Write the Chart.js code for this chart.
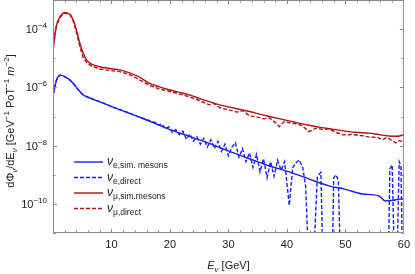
<!DOCTYPE html>
<html lang="en">
<head>
<meta charset="utf-8">
<title>Neutrino flux</title>
<script src="https://cdn.jsdelivr.net/npm/chart.js@4.4.0/dist/chart.umd.min.js"></script>
<style>
  html, body { margin: 0; padding: 0; background: #fff; }
  canvas { display: block; }
</style>
</head>
<body>
<canvas id="fluxChart" width="415" height="274"></canvas>
<script>
// energies in GeV, fluxes stored as log10 values
// -14 = zero bin (the dashed curve drops off the bottom of the frame)
const eMuSim = [0.05, 0.6, 1.2, 2.0, 2.9, 3.46, 4.0, 4.6, 5.17, 5.74, 6.6, 8.0, 9.7, 11.4, 13.1, 14.8, 16.5, 18.2, 20.0, 21.6, 23.3, 25.0, 26.7, 28.5, 30.2, 32.0, 33.6, 35.3, 37.0, 39.2, 41.5, 43.8, 46.0, 48.3, 50.6, 52.3, 54.0, 55.7, 57.4, 59.0, 60.0];
const logMuSim = [-4.61, -3.86, -3.58, -3.44, -3.49, -3.69, -4.03, -4.49, -4.83, -5.06, -5.20, -5.29, -5.35, -5.40, -5.50, -5.65, -5.86, -5.98, -6.09, -6.17, -6.26, -6.38, -6.49, -6.60, -6.68, -6.76, -6.83, -6.92, -7.00, -7.10, -7.20, -7.30, -7.38, -7.45, -7.52, -7.55, -7.57, -7.62, -7.67, -7.68, -7.62];

const eMuDir = [0.05, 0.6, 1.2, 2.0, 2.9, 3.46, 4.0, 4.6, 5.17, 5.74, 6.6, 8.0, 9.7, 11.4, 13.1, 14.8, 16.5, 18.2, 20.0, 21.5, 23.3, 25.0, 26.7, 27.5, 28.5, 30.2, 31.5, 32.5, 33.6, 35.0, 36.0, 37.0, 38.0, 38.7, 39.5, 40.5, 41.5, 42.5, 43.8, 45.0, 46.2, 47.0, 48.5, 49.6, 51.0, 52.5, 54.0, 55.5, 56.4, 57.0, 57.6, 58.6, 59.2, 60.0];
const logMuDir = [-4.61, -3.87, -3.59, -3.45, -3.50, -3.72, -4.10, -4.60, -4.98, -5.15, -5.27, -5.37, -5.42, -5.46, -5.56, -5.74, -5.93, -6.06, -6.14, -6.22, -6.32, -6.45, -6.60, -6.55, -6.70, -6.78, -6.85, -6.80, -6.98, -7.02, -7.08, -7.05, -7.20, -7.35, -7.18, -7.22, -7.25, -7.30, -7.52, -7.40, -7.45, -7.42, -7.55, -7.63, -7.62, -7.65, -7.70, -7.72, -7.80, -7.72, -7.78, -7.91, -7.83, -7.86];

const eElSim = [0.05, 0.6, 1.2, 2.0, 2.9, 4.0, 5.17, 6.9, 8.6, 10.8, 13.1, 15.3, 17.6, 20.0, 23.3, 26.7, 30.2, 33.6, 37.0, 40.4, 43.8, 47.2, 50.0, 52.9, 55.7, 56.8, 58.0, 59.7, 60.0];
const logElSim = [-6.23, -5.75, -5.58, -5.63, -5.75, -6.00, -6.26, -6.41, -6.54, -6.72, -6.89, -7.06, -7.25, -7.45, -7.68, -7.92, -8.20, -8.45, -8.70, -8.90, -9.15, -9.38, -9.50, -9.66, -9.72, -9.90, -9.88, -9.83, -9.86];

const eElDir = [0.05, 0.6, 1.2, 2.0, 2.9, 3.6, 4.0, 5.17, 6.9, 8.6, 10.8, 13.1, 15.3, 17.6, 18.0, 18.6, 19.2, 19.8, 20.4, 21.0, 21.6, 22.2, 22.8, 23.4, 24.0, 24.6, 25.2, 25.8, 26.4, 27.0, 27.6, 28.2, 28.8, 29.4, 30.0, 30.6, 31.2, 31.8, 32.4, 33.0, 33.6, 34.2, 34.8, 35.4, 36.0, 36.6, 37.2, 37.8, 38.4, 39.0, 39.6, 40.4, 41.0, 41.5, 42.1, 42.7, 43.2, 44.1, 45.2, 45.8, 46.4, 47.6, 48.0, 48.4, 48.8, 49.4, 57.2, 57.6, 58.0, 58.6, 59.2, 59.5, 59.9, 60.0];
const logElDir = [-6.23, -5.75, -5.58, -5.63, -5.75, -5.88, -6.02, -6.26, -6.41, -6.54, -6.72, -6.89, -7.06, -7.22, -7.30, -7.25, -7.42, -7.35, -7.55, -7.45, -7.62, -7.50, -7.78, -7.60, -7.85, -7.70, -7.95, -7.75, -8.05, -7.80, -8.10, -7.85, -8.20, -7.95, -8.35, -8.05, -7.90, -8.40, -8.10, -8.55, -8.25, -8.75, -8.30, -8.90, -8.45, -9.10, -8.55, -9.05, -8.50, -8.85, -8.55, -10.05, -8.75, -8.60, -8.49, -8.75, -9.40, -14, -9.06, -8.92, -14, -14, -9.10, -9.00, -9.20, -14, -14, -8.80, -8.66, -14, -8.55, -8.70, -14, -14];

const xMajor = [10, 20, 30, 40, 50, 60];
const yDecades = [-11, -10, -9, -8, -7, -6, -5, -4, -3];

const BLUE = 'rgb(25,30,255)';
const RED = 'rgb(175,18,18)';
const FONT = '"Liberation Sans", Arial, sans-serif';

function pts(xs, logs) {
  return xs.map((x, i) => ({ x: x, y: Math.pow(10, logs[i]) }));
}

const legendItems = [
  { sub: 'e,sim. mesons', color: BLUE, dash: [] },
  { sub: 'e,direct', color: BLUE, dash: [4, 2] },
  { sub: '\u03bc,sim.mesons', color: RED, dash: [] },
  { sub: '\u03bc,direct', color: RED, dash: [4, 2] }
];

// draws a run of [text, size, dy, italic] pieces starting at x
function drawRich(ctx, parts, x, y) {
  parts.forEach(p => {
    ctx.font = (p[3] ? 'italic ' : '') + p[1] + 'px ' + FONT;
    ctx.fillText(p[0], x, y + p[2]);
    x += ctx.measureText(p[0]).width;
  });
  return x;
}
function richWidth(ctx, parts) {
  let w = 0;
  parts.forEach(p => {
    ctx.font = (p[3] ? 'italic ' : '') + p[1] + 'px ' + FONT;
    w += ctx.measureText(p[0]).width;
  });
  return w;
}

const framePlugin = {
  id: 'frame',
  afterDraw(chart) {
    const ctx = chart.ctx;
    const a = chart.chartArea;
    const xs = chart.scales.x, ys = chart.scales.y;
    ctx.save();
    ctx.strokeStyle = '#8a8a8a';
    ctx.lineWidth = 1;
    ctx.setLineDash([]);
    ctx.strokeRect(a.left + 0.5, a.top + 0.5, a.right - a.left - 1, a.bottom - a.top - 1);

    // inward ticks, all four sides
    ctx.beginPath();
    for (let v = 2; v < 60; v += 2) {
      const px = Math.round(xs.getPixelForValue(v)) + 0.5;
      const len = v % 10 === 0 ? 4 : 2.5;
      ctx.moveTo(px, a.bottom); ctx.lineTo(px, a.bottom - len);
      ctx.moveTo(px, a.top); ctx.lineTo(px, a.top + len);
    }
    yDecades.forEach(d => {
      const py = Math.round(ys.getPixelForValue(Math.pow(10, d))) + 0.5;
      const len = d % 2 === 0 ? 4 : 2.5;
      ctx.moveTo(a.left, py); ctx.lineTo(a.left + len, py);
      ctx.moveTo(a.right, py); ctx.lineTo(a.right - len, py);
    });
    ctx.stroke();

    // y tick labels with superscript exponents
    ctx.fillStyle = '#222';
    ctx.textBaseline = 'alphabetic';
    yDecades.filter(d => d % 2 === 0 && d > -11 && d < -3).forEach(d => {
      const py = ys.getPixelForValue(Math.pow(10, d));
      const parts = [['10', 11, 0], ['\u2212' + (-d), 8, -5]];
      const w = richWidth(ctx, parts);
      drawRich(ctx, parts, 47 - w, py + 4);
    });

    // x axis title
    const xt = [['E', 11, 0, true], ['\u03bd', 8, 3, true], [' [GeV]', 11, 0]];
    const xw = richWidth(ctx, xt);
    drawRich(ctx, xt, (a.left + a.right) / 2 - xw / 2, 269);

    // y axis title (rotated)
    const yt = [['d\u03a6', 11, 0], ['\u03bd', 8, 3, true], ['/dE', 11, 0], ['\u03bd', 8, 3, true],
      [' [GeV', 11, 0], ['\u22121', 8, -5], [' PoT', 11, 0], ['\u22121', 8, -5], [' ', 11, 0],
      ['m', 11, 0, true], ['\u22122', 8, -5], [']', 11, 0]];
    const yw = richWidth(ctx, yt);
    ctx.save();
    ctx.translate(14, 121);
    ctx.rotate(-Math.PI / 2);
    drawRich(ctx, yt, -yw / 2, 0);
    ctx.restore();

    // legend
    legendItems.forEach((it, i) => {
      const ly = 162 + i * 15.5;
      ctx.strokeStyle = it.color;
      ctx.lineWidth = 1.4;
      ctx.setLineDash(it.dash);
      ctx.beginPath();
      ctx.moveTo(74, ly); ctx.lineTo(103, ly);
      ctx.stroke();
      ctx.setLineDash([]);
      ctx.fillStyle = '#222';
      drawRich(ctx, [['\u03bd', 12, 0, true], [it.sub, 8.5, 3]], 107, ly + 3);
    });
    ctx.restore();
  }
};

const ctx = document.getElementById('fluxChart').getContext('2d');
const fluxChart = new Chart(ctx, {
  type: 'line',
  data: {
    datasets: [
      { label: 've sim', data: pts(eElSim, logElSim), borderColor: BLUE, borderWidth: 1.4, cubicInterpolationMode: 'monotone' },
      { label: 've direct', data: pts(eElDir, logElDir), borderColor: BLUE, borderWidth: 1.4, borderDash: [4, 2] },
      { label: 'vmu sim', data: pts(eMuSim, logMuSim), borderColor: RED, borderWidth: 1.4, cubicInterpolationMode: 'monotone' },
      { label: 'vmu direct', data: pts(eMuDir, logMuDir), borderColor: RED, borderWidth: 1.4, borderDash: [4, 2] }
    ]
  },
  options: {
    responsive: false,
    animation: false,
    parsing: false,
    elements: { point: { radius: 0 }, line: { fill: false } },
    layout: { padding: { top: 0, right: 8, left: 0, bottom: 0 } },
    plugins: { legend: { display: false }, tooltip: { enabled: false } },
    scales: {
      x: {
        type: 'linear', min: 0, max: 60,
        grid: { display: false, drawTicks: false },
        border: { display: false },
        ticks: { color: '#222', font: { family: FONT, size: 11 }, padding: 5, maxRotation: 0, autoSkip: false },
        afterBuildTicks: s => { s.ticks = xMajor.map(v => ({ value: v })); },
        afterFit: s => { s.height = 41; }
      },
      y: {
        type: 'logarithmic', min: 1e-11, max: 1e-3,
        grid: { display: false, drawTicks: false },
        border: { display: false },
        ticks: { display: false },
        afterBuildTicks: s => { s.ticks = yDecades.map(d => ({ value: Math.pow(10, d) })); },
        afterFit: s => { s.width = 53; }
      }
    }
  },
  plugins: [framePlugin]
});
</script>
</body>
</html>
